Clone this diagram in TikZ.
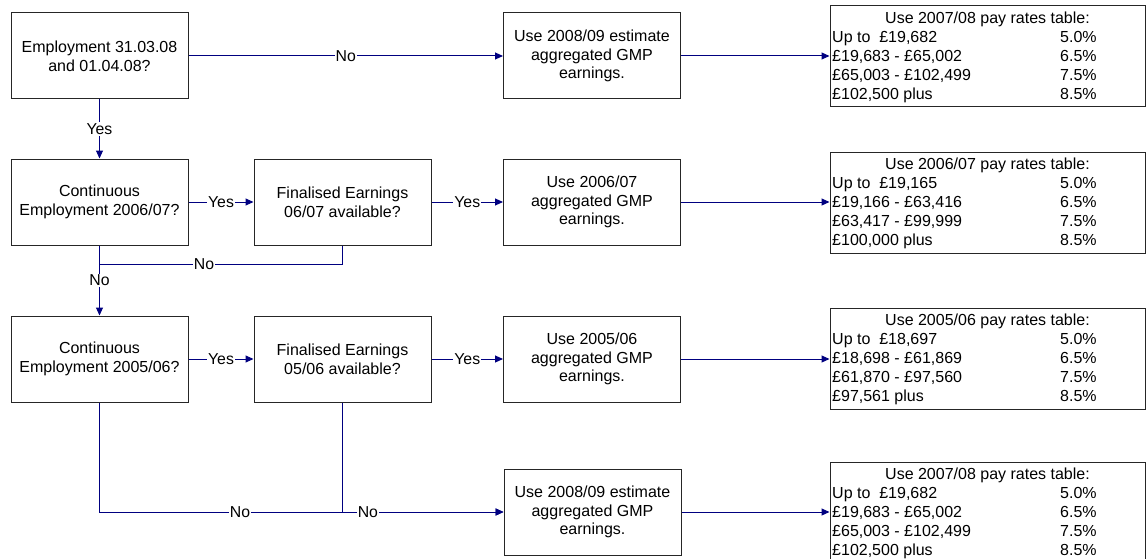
\documentclass[tikz,border=0pt]{standalone}
\usepackage{fontspec}
\setmainfont{Liberation Sans}
\usetikzlibrary{arrows.meta}
\definecolor{navy}{RGB}{0,0,128}
\tikzset{
  box/.style={draw=black!85, line width=1pt, minimum width=177pt, minimum height=86pt, align=center, inner sep=0pt, font=\fontsize{16}{18.7}\selectfont},
  tbl/.style={draw=black!85, line width=1pt, minimum width=315pt, minimum height=101pt, inner sep=0pt},
  tt/.style={inner sep=0pt, font=\fontsize{16}{18.7}\selectfont},
  ln/.style={draw=navy, line width=1pt},
  arr/.style={ln, -{Triangle[length=8pt,width=7pt]}},
  lbl/.style={fill=white, inner sep=1pt, font=\fontsize{15.8}{18.5}\selectfont}
}
\newcommand{\paytab}[7]{%
  \node[tbl] (#1) at (987.5,#2+50.5) {};
  \node[tt, anchor=base] (#1h) at (987.5,#2+17.5) {#3};
  \node[tt, anchor=base west] (#1a) at (832,#2+36.5) {#4};
  \node[tt, anchor=base west] (#1b) at (832,#2+55.5) {#5};
  \node[tt, anchor=base west] (#1c) at (832,#2+74.5) {#6};
  \node[tt, anchor=base west] (#1d) at (832,#2+93.5) {#7};
  \node[tt, anchor=base west] (#1pa) at (1060,#2+36.5) {5.0\%};
  \node[tt, anchor=base west] (#1pb) at (1060,#2+55.5) {6.5\%};
  \node[tt, anchor=base west] (#1pc) at (1060,#2+74.5) {7.5\%};
  \node[tt, anchor=base west] (#1pd) at (1060,#2+93.5) {8.5\%};
}
\begin{document}
\begin{tikzpicture}[x=1pt,y=-1pt]
\useasboundingbox[fill=white] (0,0) rectangle (1148,559);
\node[box] (A) at (99.5,56) {Employment 31.03.08\\and 01.04.08?};
\node[box] (B) at (592,56) {Use 2008/09 estimate\\aggregated GMP\\earnings.};
\node[box] (C) at (99.5,202) {Continuous\\Employment 2006/07?};
\node[box] (D) at (342.5,202) {Finalised Earnings\\06/07 available?};
\node[box] (E) at (592,202) {Use 2006/07\\aggregated GMP\\earnings.};
\node[box] (F) at (99.5,359) {Continuous\\Employment 2005/06?};
\node[box] (G) at (342.5,359) {Finalised Earnings\\05/06 available?};
\node[box] (H) at (592,359) {Use 2005/06\\aggregated GMP\\earnings.};
\node[box] (I) at (592.5,512) {Use 2008/09 estimate\\aggregated GMP\\earnings.};
\paytab{t1}{6}{Use 2007/08 pay rates table:}{Up to\ \ £19,682}{£19,683 - £65,002}{£65,003 - £102,499}{£102,500 plus}
\paytab{t2}{152}{Use 2006/07 pay rates table:}{Up to\ \ £19,165}{£19,166 - £63,416}{£63,417 - £99,999}{£100,000 plus}
\paytab{t3}{308}{Use 2005/06 pay rates table:}{Up to\ \ £18,697}{£18,698 - £61,869}{£61,870 - £97,560}{£97,561 plus}
\paytab{t4}{462}{Use 2007/08 pay rates table:}{Up to\ \ £19,682}{£19,683 - £65,002}{£65,003 - £102,499}{£102,500 plus}
\coordinate (j1) at (99.5,264);
\draw[arr] (A) -- node[lbl]{No} (B);
\draw[arr] (B.east) -- (B.east -| t1.west);
\draw[arr] (A) -- node[lbl]{Yes} (C);
\draw[arr] (C) -- node[lbl]{Yes} (D);
\draw[arr] (D) -- node[lbl]{Yes} (E);
\draw[arr] (E.east) -- (E.east -| t2.west);
\draw[ln] (D.south) |- node[lbl, pos=0.785]{No} (j1);
\draw[arr] (C) -- node[lbl]{No} (F);
\draw[arr] (F) -- node[lbl]{Yes} (G);
\draw[arr] (G) -- node[lbl]{Yes} (H);
\draw[arr] (H.east) -- (H.east -| t3.west);
\draw[arr] (F.south) |- node[lbl, pos=0.674]{No} (I.west);
\draw[arr] (G.south) |- node[lbl, pos=0.579]{No} (I.west);
\draw[arr] (I.east) -- (I.east -| t4.west);
\end{tikzpicture}
\end{document}
